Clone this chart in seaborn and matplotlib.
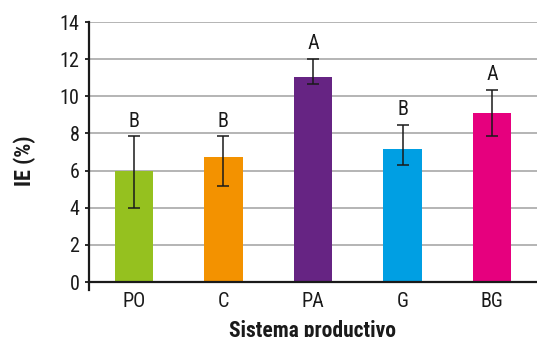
import matplotlib
matplotlib.use("Agg")
import matplotlib.pyplot as plt
import seaborn as sns
import pandas as pd
import numpy as np

categories = ["PO", "C", "PA", "G", "BG"]
ie_mean = [6.0, 6.73, 11.04, 7.16, 9.1]
err_high = [7.84, 7.84, 12.0, 8.45, 10.34]
err_low = [4.0, 5.15, 10.68, 6.3, 7.85]
letters = ["B", "B", "A", "B", "A"]
colors = ["#95C11F", "#F39200", "#662483", "#009FE3", "#E6007E"]
y_ticks = [0, 2, 4, 6, 8, 10, 12, 14]

sns.set_theme(style="white")
plt.rcParams["font.family"] = ["Roboto Condensed", "DejaVu Sans"]

ink = "#1a1a1a"
df = pd.DataFrame({"sistema": categories, "ie": ie_mean})

fig = plt.figure(figsize=(5.37, 3.37), dpi=100)
ax = fig.add_axes([0.1657, 0.1632, 0.8343, 0.7715])

sns.barplot(data=df, x="sistema", y="ie", hue="sistema", palette=colors,
            order=categories, hue_order=categories, width=0.43,
            saturation=1, legend=False, ax=ax, zorder=3,
            linewidth=0, edgecolor="none")

x = np.arange(len(categories))
mean = np.array(ie_mean)
yerr = np.vstack([mean - np.array(err_low), np.array(err_high) - mean])
ax.errorbar(x, mean, yerr=yerr, fmt="none", ecolor=ink,
            elinewidth=1.1, capsize=4, capthick=1.1, zorder=4)

for xi, top, lab in zip(x, err_high, letters):
    ax.annotate(lab, (xi, top), xytext=(0, 7), textcoords="offset points",
                ha="center", va="baseline", fontsize=14.5, color=ink)

ax.set_xlim(-0.5, 4.5)
ax.set_ylim(0, 14)
ax.set_yticks(y_ticks)
ax.yaxis.grid(True, color="#b4b4b4", linewidth=1.4, zorder=0)
ax.set_axisbelow(True)

for side in ["top", "right"]:
    ax.spines[side].set_visible(False)
ax.spines["left"].set_color(ink)
ax.spines["left"].set_linewidth(1.6)
ax.spines["left"].set_bounds(-0.43, 14)
ax.spines["bottom"].set_color(ink)
ax.spines["bottom"].set_linewidth(1.6)
ax.spines["bottom"].set_zorder(5)

ax.tick_params(axis="y", which="major", left=True, length=3, width=1.3,
               color=ink, labelsize=14.5, labelcolor=ink, pad=4)
ax.tick_params(axis="x", bottom=False, length=0, labelsize=14.5,
               labelcolor=ink, pad=7)

ax.set_xlabel("Sistema productivo", fontsize=15.5, fontweight="bold",
              color=ink, labelpad=7)
ax.set_ylabel("IE (%)", fontsize=16, fontweight="bold", color=ink,
              labelpad=17)
ax.yaxis.label.set_y(0.465)

fig.savefig("out.png", dpi=100)
